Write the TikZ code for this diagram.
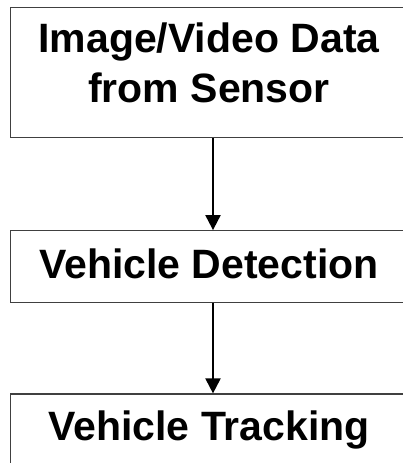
\documentclass[tikz,border=0pt]{standalone}
\usepackage{fontspec}
\setmainfont{Liberation Sans}
\usetikzlibrary{arrows.meta}

\begin{document}
\begin{tikzpicture}[x=1pt, y=-1pt,
    stage/.style={draw=black!75, line width=1.2pt, minimum width=397pt,
        inner sep=0pt, align=center,
        font=\bfseries\fontsize{41}{50}\selectfont},
    flow/.style={line width=2pt, -{Triangle[length=15pt, width=15pt]}}]
    % page frame, the boxes run off the right edge
    \useasboundingbox (0,0) rectangle (403,463);
    \clip (0,0) rectangle (403,463);

    % processing stages
    \node[stage, minimum height=130.4pt, text depth=20pt] (sensor) at (209,72.5)
        {Image/Video Data\\from Sensor};
    \node[stage, minimum height=71.6pt, text depth=6pt] (detect) at (209,266.5)
        {Vehicle Detection};
    \node[stage, minimum height=71.6pt] (track) at (209,429.8)
        {Vehicle Tracking};

    % data flow between the stages
    \draw[flow] ([xshift=4pt]sensor.south) -- ([xshift=4pt]detect.north);
    \draw[flow] ([xshift=4pt]detect.south) -- ([xshift=4pt]track.north);
\end{tikzpicture}
\end{document}
